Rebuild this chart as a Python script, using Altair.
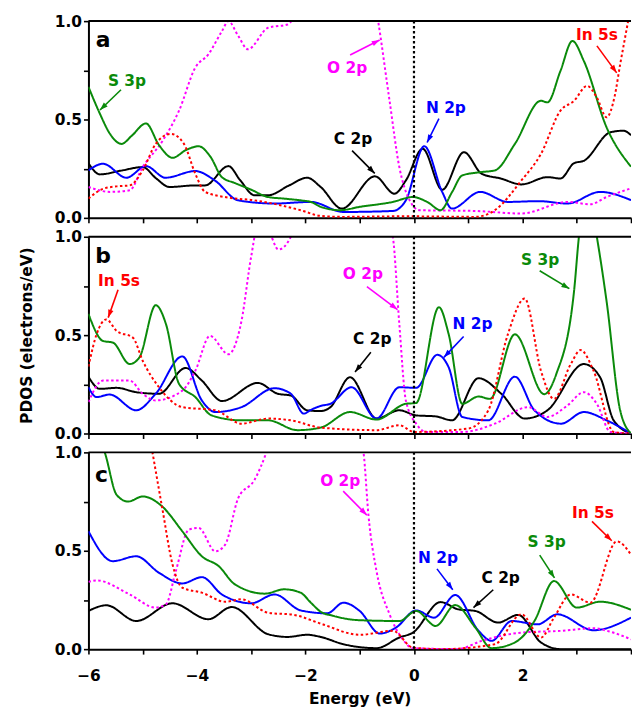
import math
import altair as alt
import pandas as pd

# ---------------- data ----------------
SERIES = ["C 2p", "N 2p", "O 2p", "S 3p", "In 5s"]

# panel a
A_C2P_X = [-6.0, -5.79, -5.4, -5.0, -4.75, -4.51, -4.03, -3.85, -3.42, -3.2, -2.94, -2.69, -2.3, -1.97, -1.72, -1.33, -0.72, -0.36, -0.15, 0.16, 0.52, 0.92, 1.25, 1.6, 1.98, 2.46, 2.7, 2.95, 3.13, 3.62, 3.86, 4.0]
A_C2P_Y = [0.278, 0.221, 0.24, 0.258, 0.2, 0.157, 0.165, 0.165, 0.263, 0.19, 0.115, 0.115, 0.165, 0.204, 0.157, 0.047, 0.211, 0.123, 0.19, 0.351, 0.143, 0.334, 0.224, 0.2, 0.17, 0.207, 0.2, 0.278, 0.29, 0.435, 0.443, 0.42]
A_N2P_X = [-6.0, -5.73, -5.3, -4.94, -4.58, -4.03, -3.67, -3.24, -2.57, -1.9, -1.3, -0.39, -0.15, 0.19, 0.52, 0.7, 1.22, 1.73, 2.3, 2.83, 3.43, 4.0]
A_N2P_Y = [0.241, 0.275, 0.204, 0.263, 0.204, 0.238, 0.19, 0.089, 0.073, 0.081, 0.03, 0.035, 0.089, 0.364, 0.132, 0.047, 0.132, 0.081, 0.085, 0.073, 0.132, 0.09]
A_O2P_X = [-6.0, -5.6, -5.24, -5.0, -4.63, -4.33, -4.03, -3.79, -3.54, -3.42, -3.25, -3.06, -2.69, -2.33, -2.15, -1.7, -1.0, -0.66, -0.45, -0.27, -0.08, 0.1, 1.13, 1.98, 2.83, 3.25, 3.55, 4.0]
A_O2P_Y = [0.157, 0.132, 0.14, 0.258, 0.393, 0.545, 0.764, 0.831, 0.949, 1.0, 0.93, 0.857, 0.966, 0.983, 1.05, 1.4, 1.5, 1.0, 0.595, 0.258, 0.089, 0.039, 0.035, 0.022, 0.081, 0.069, 0.106, 0.15]
A_S3P_X = [-6.0, -5.79, -5.61, -5.39, -5.2, -4.94, -4.7, -4.45, -4.2, -3.97, -3.75, -3.54, -3.3, -3.0, -2.69, -2.4, -2.09, -1.9, -1.72, -1.36, -1.0, -0.39, -0.02, 0.25, 0.49, 0.7, 0.89, 1.25, 1.49, 1.86, 2.34, 2.46, 2.7, 2.92, 3.13, 3.55, 4.0]
A_S3P_Y = [0.666, 0.53, 0.43, 0.376, 0.418, 0.48, 0.37, 0.305, 0.345, 0.364, 0.31, 0.207, 0.177, 0.143, 0.106, 0.098, 0.089, 0.081, 0.056, 0.039, 0.056, 0.081, 0.106, 0.08, 0.039, 0.13, 0.216, 0.233, 0.241, 0.376, 0.595, 0.587, 0.747, 0.899, 0.798, 0.46, 0.26]
A_IN5S_X = [-6.0, -5.73, -5.48, -5.24, -5.0, -4.76, -4.48, -4.24, -4.03, -3.85, -3.42, -2.94, -2.09, -1.72, -1.3, -0.2, 1.13, 1.49, 1.98, 2.34, 2.7, 2.95, 3.19, 3.37, 3.55, 3.7, 3.8, 3.9, 4.0]
A_IN5S_Y = [0.098, 0.148, 0.16, 0.165, 0.241, 0.376, 0.427, 0.376, 0.224, 0.132, 0.103, 0.089, 0.039, 0.01, 0.005, 0.008, 0.005, 0.039, 0.19, 0.325, 0.545, 0.595, 0.671, 0.612, 0.511, 0.62, 0.78, 0.93, 1.08]

# panel b
B_C2P_X = [-6.0, -5.79, -5.48, -5.12, -4.7, -4.21, -3.91, -3.54, -2.88, -2.51, -2.27, -1.97, -1.72, -1.54, -1.18, -0.69, -0.27, 0.04, 0.4, 0.7, 1.19, 1.61, 2.04, 2.46, 3.13, 3.43, 3.68, 4.0]
B_C2P_Y = [0.289, 0.227, 0.232, 0.21, 0.202, 0.333, 0.269, 0.165, 0.257, 0.202, 0.193, 0.118, 0.114, 0.134, 0.286, 0.076, 0.118, 0.092, 0.087, 0.067, 0.281, 0.202, 0.076, 0.118, 0.353, 0.286, 0.067, 0.0]
B_N2P_X = [-6.0, -5.85, -5.61, -5.12, -4.76, -4.27, -3.91, -3.66, -3.18, -2.57, -2.27, -2.03, -1.9, -1.72, -1.54, -1.15, -0.69, -0.27, 0.04, 0.43, 0.64, 0.89, 1.37, 1.86, 2.22, 2.71, 3.13, 3.55, 4.0]
B_N2P_Y = [0.235, 0.185, 0.198, 0.118, 0.202, 0.392, 0.168, 0.109, 0.134, 0.23, 0.202, 0.101, 0.12, 0.14, 0.151, 0.235, 0.076, 0.235, 0.232, 0.4, 0.336, 0.084, 0.067, 0.289, 0.118, 0.05, 0.109, 0.067, 0.0]
B_O2P_X = [-6.0, -5.73, -5.24, -5.0, -4.76, -4.27, -4.03, -3.76, -3.42, -3.18, -3.0, -2.9, -2.7, -2.5, -2.27, -2.0, -1.0, -0.39, -0.27, -0.15, 0.04, 0.22, 0.9, 1.49, 2.1, 2.46, 2.83, 3.13, 3.37, 3.62, 4.0]
B_O2P_Y = [0.16, 0.269, 0.269, 0.202, 0.168, 0.218, 0.319, 0.496, 0.403, 0.571, 0.9, 1.03, 1.03, 0.935, 1.0, 1.3, 1.5, 1.0, 0.555, 0.168, 0.05, 0.008, 0.008, 0.05, 0.134, 0.084, 0.143, 0.21, 0.151, 0.008, 0.0]
B_S3P_X = [-6.0, -5.73, -5.55, -5.24, -5.06, -4.76, -4.57, -4.33, -4.03, -3.73, -3.18, -2.69, -2.15, -1.72, -1.18, -0.69, -0.15, 0.04, 0.46, 0.64, 0.89, 1.19, 1.4, 1.86, 2.4, 2.62, 2.95, 3.04, 3.2, 3.37, 3.55, 3.8, 4.0]
B_S3P_Y = [0.608, 0.47, 0.462, 0.353, 0.387, 0.652, 0.555, 0.252, 0.185, 0.092, 0.067, 0.067, 0.017, 0.03, 0.109, 0.071, 0.151, 0.155, 0.642, 0.504, 0.151, 0.188, 0.176, 0.504, 0.2, 0.3, 0.723, 1.0, 1.25, 1.0, 0.672, 0.118, 0.0]
B_IN5S_X = [-6.0, -5.85, -5.67, -5.48, -5.18, -5.0, -4.7, -4.27, -3.66, -3.18, -2.69, -2.27, -1.72, -0.69, -0.27, 0.0, 1.0, 1.37, 1.73, 2.04, 2.34, 2.58, 2.89, 3.07, 3.31, 3.68, 4.0]
B_IN5S_Y = [0.34, 0.504, 0.58, 0.521, 0.487, 0.37, 0.235, 0.134, 0.118, 0.05, 0.076, 0.067, 0.03, 0.017, 0.042, 0.008, 0.025, 0.118, 0.504, 0.686, 0.319, 0.176, 0.353, 0.424, 0.319, 0.008, 0.0]

# panel c
C_C2P_X = [-6.0, -5.67, -5.12, -4.45, -3.79, -3.36, -2.69, -2.33, -1.97, -1.72, -1.3, -0.69, -0.27, -0.02, 0.49, 0.82, 1.13, 1.55, 1.92, 2.34, 2.7, 4.0]
C_C2P_Y = [0.194, 0.223, 0.143, 0.233, 0.152, 0.214, 0.076, 0.062, 0.073, 0.062, 0.025, 0.005, 0.059, 0.084, 0.239, 0.202, 0.194, 0.135, 0.174, 0.034, 0.0, 0.0]
C_N2P_X = [-6.0, -5.55, -5.12, -4.7, -4.27, -3.91, -3.54, -3.0, -2.57, -2.09, -1.6, -1.3, -1.0, -0.63, -0.33, 0.04, 0.37, 0.76, 1.19, 1.43, 1.8, 2.28, 2.64, 3.31, 4.0]
C_N2P_Y = [0.599, 0.447, 0.472, 0.388, 0.334, 0.366, 0.278, 0.233, 0.278, 0.197, 0.182, 0.236, 0.194, 0.079, 0.11, 0.197, 0.16, 0.275, 0.093, 0.042, 0.143, 0.126, 0.177, 0.096, 0.16]
C_O2P_X = [-6.0, -5.85, -5.24, -4.76, -4.57, -4.39, -4.15, -3.97, -3.66, -3.48, -3.24, -2.94, -2.72, -2.4, -1.5, -0.93, -0.84, -0.69, -0.45, -0.21, -0.02, 0.8, 1.25, 1.98, 2.71, 3.31, 3.6, 4.0]
C_O2P_Y = [0.342, 0.349, 0.278, 0.211, 0.228, 0.396, 0.607, 0.616, 0.497, 0.531, 0.767, 0.86, 1.0, 1.3, 1.6, 1.0, 0.683, 0.396, 0.177, 0.051, 0.005, 0.0, 0.042, 0.084, 0.093, 0.106, 0.09, 0.05]
C_S3P_X = [-6.0, -5.7, -5.48, -5.27, -5.0, -4.64, -4.27, -3.91, -3.6, -3.3, -2.75, -2.39, -2.09, -1.9, -1.72, -1.5, -1.0, -0.27, 0.04, 0.4, 0.76, 1.13, 1.43, 1.86, 2.22, 2.58, 3.0, 3.43, 4.0]
C_S3P_Y = [1.15, 1.0, 0.784, 0.75, 0.776, 0.725, 0.599, 0.472, 0.422, 0.329, 0.282, 0.304, 0.287, 0.236, 0.19, 0.17, 0.147, 0.143, 0.194, 0.118, 0.224, 0.11, 0.005, 0.034, 0.143, 0.346, 0.211, 0.241, 0.2]
C_IN5S_X = [-5.2, -4.82, -4.64, -4.45, -4.27, -3.91, -3.48, -3.18, -2.69, -2.21, -1.72, -1.0, -0.39, -0.02, 0.5, 1.49, 1.98, 2.34, 2.58, 2.89, 3.25, 3.74, 4.0]
C_IN5S_Y = [1.6, 1.0, 0.717, 0.43, 0.312, 0.287, 0.241, 0.253, 0.185, 0.174, 0.13, 0.073, 0.093, 0.008, 0.0, 0.025, 0.177, 0.059, 0.16, 0.278, 0.236, 0.548, 0.48]

# annotations (data coordinates)
ANN_PANEL = ["a"] * 5 + ["b"] * 5 + ["c"] * 5
ANN_LABEL = ["S 3p", "O 2p", "C 2p", "N 2p", "In 5s",
             "In 5s", "O 2p", "C 2p", "N 2p", "S 3p",
             "O 2p", "N 2p", "C 2p", "S 3p", "In 5s"]
ANN_TX = [-5.29, -1.232, -1.123, 0.588, 3.372, -5.436, -0.941, -0.768, 1.079, 2.326, -1.359, 0.442, 1.598, 2.444, 3.299]
ANN_TY = [0.697, 0.762, 0.403, 0.56, 0.929, 0.774, 0.809, 0.481, 0.554, 0.882, 0.852, 0.464, 0.363, 0.542, 0.694]
ARR_X1 = [-5.40, -1.177, -1.141, 0.46, 3.372, -5.454, -0.868, -0.795, 0.915, 2.317, -1.305, 0.424, 1.461, 2.317, 3.281]
ARR_Y1 = [0.651, 0.828, 0.342, 0.504, 0.874, 0.731, 0.746, 0.413, 0.493, 0.827, 0.803, 0.408, 0.302, 0.478, 0.649]
ARR_X2 = [-5.787, -0.632, -0.723, 0.242, 3.736, -5.636, -0.304, -1.086, 0.551, 2.863, -0.868, 0.715, 1.097, 2.59, 3.645]
ARR_Y2 = [0.548, 0.904, 0.226, 0.383, 0.737, 0.589, 0.63, 0.312, 0.387, 0.736, 0.681, 0.302, 0.211, 0.362, 0.551]

PANEL_LABEL_X = [-5.73, -5.73, -5.76]
PANEL_LABEL_Y = [0.905, 0.9, 0.885]

# ---------------- styling ----------------
COLORS = ["#000000", "#0000ff", "#ff00ff", "#0a8a0a", "#ff0000"]
DASHES = [[1, 0], [1, 0], [2.5, 2.5], [1, 0], [2.5, 2.5]]
WIDTHS = [2.0, 2.0, 3.0, 2.0, 3.0]
COLOR_OF = dict(zip(SERIES, COLORS))
FONT = "DejaVu Sans"
W, H = 546, 198
ARROW = "M0,0L-0.55,1.6L0.55,1.6Z"

curves = {
    "a": [A_C2P_X, A_C2P_Y, A_N2P_X, A_N2P_Y, A_O2P_X, A_O2P_Y, A_S3P_X, A_S3P_Y, A_IN5S_X, A_IN5S_Y],
    "b": [B_C2P_X, B_C2P_Y, B_N2P_X, B_N2P_Y, B_O2P_X, B_O2P_Y, B_S3P_X, B_S3P_Y, B_IN5S_X, B_IN5S_Y],
    "c": [C_C2P_X, C_C2P_Y, C_N2P_X, C_N2P_Y, C_O2P_X, C_O2P_Y, C_S3P_X, C_S3P_Y, C_IN5S_X, C_IN5S_Y],
}

ann_rows = []
for k in range(len(ANN_LABEL)):
    dxp = (ARR_X2[k] - ARR_X1[k]) * W / 10.0
    dyp = -(ARR_Y2[k] - ARR_Y1[k]) * H
    ang = math.degrees(math.atan2(dxp, -dyp)) % 360
    ann_rows.append({"panel": ANN_PANEL[k], "label": ANN_LABEL[k], "col": COLOR_OF[ANN_LABEL[k]],
                     "tx": ANN_TX[k], "ty": ANN_TY[k], "x1": ARR_X1[k], "y1": ARR_Y1[k],
                     "x2": ARR_X2[k], "y2": ARR_Y2[k], "ang": ang})
ann_all = pd.DataFrame(ann_rows)

XS = alt.Scale(domain=[-6, 4], nice=False, zero=False)
YS = alt.Scale(domain=[0, 1], nice=False)


def make_panel(idx, p):
    arrs = curves[p]
    rows = []
    for s_i, s in enumerate(SERIES):
        xs, ys = arrs[2 * s_i], arrs[2 * s_i + 1]
        for i, (x, y) in enumerate(zip(xs, ys)):
            rows.append({"series": s, "i": i, "x": x, "y": y})
    df = pd.DataFrame(rows)
    last = idx == 2
    if last:
        xaxis = alt.Axis(values=list(range(-6, 5)), labelFlush=False, labelPadding=15,
                         labelExpr="abs(datum.value) % 2 == 0 && datum.value < 4 ? replace(format(datum.value, 'd'), '-', '\u2212') : ''",
                         title="Energy (eV)", titlePadding=7)
    else:
        xaxis = alt.Axis(values=list(range(-6, 5)), labels=False, title=None)
    yaxis = alt.Axis(values=[0, 0.25, 0.5, 0.75, 1], labelPadding=2,
                     labelExpr="datum.value == 0.25 || datum.value == 0.75 ? '' : format(datum.value, '.1f')",
                     title="PDOS (electrons/eV)", titlePadding=20,
                     titleOpacity=1 if idx == 1 else 0)

    def X(f):
        return alt.X(f, type="quantitative", scale=XS, axis=xaxis)

    def Y(f):
        return alt.Y(f, type="quantitative", scale=YS, axis=yaxis)

    lines = alt.Chart(df).mark_line(interpolate="monotone", clip=True).encode(
        x=X("x"), y=Y("y"),
        color=alt.Color("series:N", scale=alt.Scale(domain=SERIES, range=COLORS), legend=None),
        strokeDash=alt.StrokeDash("series:N", scale=alt.Scale(domain=SERIES, range=DASHES), legend=None),
        strokeWidth=alt.StrokeWidth("series:N", scale=alt.Scale(domain=SERIES, range=WIDTHS), legend=None),
        order=alt.Order("i:Q"),
    )
    zero = alt.Chart(pd.DataFrame({"x": [0.0]})).mark_rule(
        color="black", strokeWidth=2.2, strokeDash=[2.5, 2.5]).encode(x=X("x"))
    top = alt.Chart(pd.DataFrame({"y": [1.0]})).mark_rule(
        color="black", strokeWidth=2).encode(y=Y("y"))
    ann = ann_all[ann_all.panel == p]
    shaft = alt.Chart(ann).mark_rule(strokeWidth=1.6).encode(
        x=X("x1"), y=Y("y1"), x2="x2:Q", y2="y2:Q",
        stroke=alt.Stroke("col:N", scale=None))
    head = alt.Chart(ann).mark_point(shape=ARROW, filled=True, size=100, opacity=1, strokeWidth=0).encode(
        x=X("x2"), y=Y("y2"), angle=alt.Angle("ang:Q", scale=None),
        fill=alt.Fill("col:N", scale=None))
    text = alt.Chart(ann).mark_text(font=FONT, fontWeight="bold", fontSize=15.5,
                                    align="center", baseline="middle").encode(
        x=X("tx"), y=Y("ty"), text="label:N", fill=alt.Fill("col:N", scale=None))
    letter = alt.Chart(pd.DataFrame({"x": [PANEL_LABEL_X[idx]], "y": [PANEL_LABEL_Y[idx]], "t": [p]})).mark_text(
        font=FONT, fontWeight="bold", fontSize=22, align="center", baseline="middle", color="black").encode(
        x=X("x"), y=Y("y"), text="t:N")
    return alt.layer(lines, zero, top, shaft, head, text, letter).properties(width=W, height=H)


panels = [make_panel(i, p) for i, p in enumerate(["a", "b", "c"])]

chart = alt.vconcat(*panels, spacing=19, bounds="flush").properties(
    padding={"left": 19, "top": 12, "right": 0, "bottom": 0}
).configure_view(stroke=None).configure_axis(
    grid=False, domainColor="black", domainWidth=2, tickColor="black", tickWidth=1.6, tickSize=5,
    labelFont=FONT, labelFontWeight="bold", labelFontSize=15.5, labelColor="black",
    titleFont=FONT, titleFontWeight="bold", titleFontSize=15.5, titleColor="black",
)

chart.save("out.html", embed_options={"renderer": "svg", "actions": False})
